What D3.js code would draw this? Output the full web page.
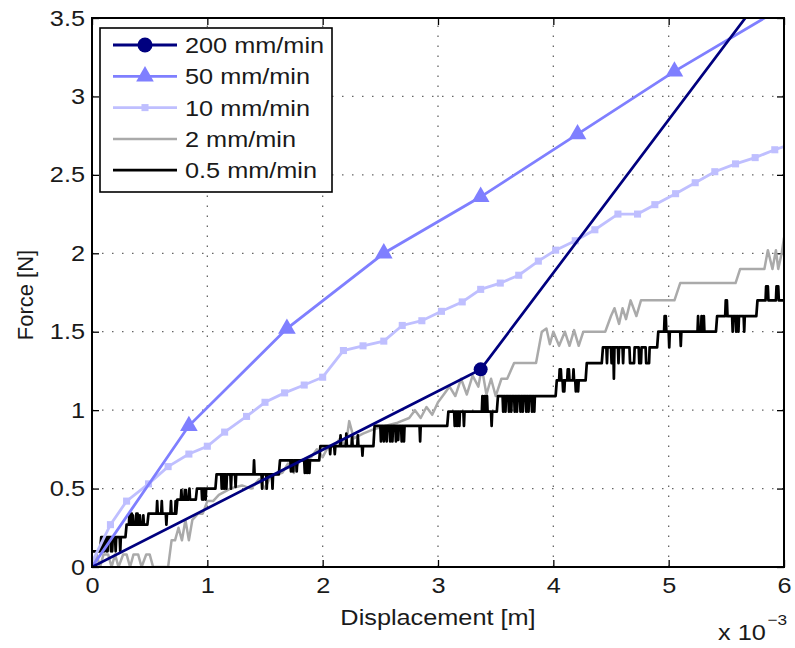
<!DOCTYPE html>
<html>
<head>
<meta charset="utf-8">
<script src="https://cdn.jsdelivr.net/npm/d3@7"></script>
<style>
body{margin:0;background:#fff;}
text{font-family:"Liberation Sans", Arial, sans-serif;fill:#1a1a1a;}
</style>
</head>
<body>
<script>
//wrap everything in a self-executing anonymous function
(function(){

//legend labels and colours
var seriesNames = ["200 mm/min", "50 mm/min", "10 mm/min", "2 mm/min", "0.5 mm/min"];
var seriesColors = ["#00007f", "#7f7fff", "#bfbfff", "#aaaaaa", "#000000"];

//axis ticks (x in units of 10^-3 m)
var xTicks = [0, 1, 2, 3, 4, 5, 6];
var yTicks = [0, 0.5, 1, 1.5, 2, 2.5, 3, 3.5];

//200 mm/min
var x200 = [0, 3.37, 6.74];
var f200 = [0, 1.26, 4.55];

//50 mm/min
var x50 = [0, 0.84, 1.69, 2.53, 3.37, 4.21, 5.05, 5.9];
var f50 = [0, 0.9, 1.52, 2.0, 2.36, 2.76, 3.16, 3.53];

//10 mm/min
var x10 = [0, 0.16, 0.30, 0.49, 0.66, 0.84, 1.0, 1.15, 1.34, 1.50, 1.67, 1.84, 2.0, 2.18, 2.35, 2.53, 2.69, 2.86, 3.03, 3.21, 3.37, 3.54, 3.70, 3.87, 4.02, 4.19, 4.36, 4.56, 4.73, 4.88, 5.06, 5.23, 5.40, 5.58, 5.75, 5.92, 6.0];
var f10 = [0.03, 0.27, 0.42, 0.53, 0.64, 0.72, 0.77, 0.86, 0.96, 1.05, 1.11, 1.16, 1.21, 1.38, 1.41, 1.44, 1.54, 1.57, 1.63, 1.69, 1.77, 1.81, 1.86, 1.95, 2.02, 2.08, 2.15, 2.25, 2.25, 2.31, 2.38, 2.45, 2.52, 2.57, 2.61, 2.66, 2.68];

//2 mm/min (x, force)
var run2 = [[0,0],[0.04,0.08],[0.07,0],[0.1,0.08],[0.14,0.08],[0.17,0],[0.2,0.08],[0.23,0],[0.27,0.08],[0.3,0.08],[0.33,0],[0.36,0.08],[0.4,0.08],[0.43,0],[0.47,0.08],[0.5,0.08],[0.53,0],[0.66,0],
    [0.69,0.17],[0.72,0.17],[0.75,0.25],[0.78,0.17],[0.81,0.3],[0.84,0.17],[0.87,0.3],[0.92,0.34],[0.96,0.34],[1.0,0.42],[1.05,0.42],[1.1,0.46],[1.2,0.5],[1.3,0.52],[1.38,0.5],[1.45,0.56],[1.5,0.5],[1.55,0.58],[1.65,0.6],[1.7,0.66],[1.75,0.6],[1.8,0.68],[1.9,0.7],[1.95,0.75],[2.0,0.7],[2.05,0.77],[2.1,0.77],[2.15,0.82],[2.2,0.77],[2.23,0.93],[2.27,0.82],[2.35,0.85],[2.45,0.88],[2.55,0.9],[2.65,0.92],[2.75,0.95],[2.8,1.0],[2.85,0.95],[2.9,1.02],[2.95,0.97],[3.0,1.05],[3.05,1.1],[3.1,1.15],[3.15,1.09],[3.2,1.2],[3.25,1.1],[3.3,1.22],[3.35,1.15],[3.38,1.27],[3.42,1.1],[3.46,1.2],[3.5,1.09],[3.55,1.2],[3.6,1.2],[3.66,1.3],[3.85,1.3],[3.9,1.5],[3.94,1.52],[3.97,1.42],[4.0,1.5],[4.05,1.41],[4.1,1.5],[4.14,1.41],[4.18,1.51],[4.22,1.41],[4.26,1.5],[4.45,1.5],[4.5,1.6],[4.53,1.65],[4.57,1.55],[4.6,1.65],[4.63,1.58],[4.67,1.7],[4.72,1.6],[4.76,1.7],[5.05,1.7],[5.1,1.81],[5.58,1.81],[5.62,1.9],[5.83,1.9],[5.86,2.02],[5.9,1.9],[5.93,2.02],[5.95,1.9],[5.98,2.0],[6.0,2.1]];

//0.5 mm/min (x, force)
var run05 = [[0,0.1],[0.07,0.1],[0.08,0.19],[0.09,0.19],[0.095,0.1],[0.1,0.19],[0.105,0.1],[0.11,0.19],[0.12,0.19],[0.125,0.1],[0.13,0.19],[0.135,0.1],[0.14,0.19],[0.16,0.19],[0.165,0.1],[0.17,0.19],[0.175,0.1],[0.18,0.19],[0.2,0.19],[0.205,0.1],[0.21,0.19],[0.24,0.19],[0.245,0.1],[0.25,0.19],[0.29,0.19],
    [0.3,0.27],[0.32,0.27],[0.325,0.34],[0.33,0.27],[0.34,0.27],[0.345,0.34],[0.35,0.27],[0.355,0.33],[0.36,0.27],[0.38,0.27],[0.385,0.34],[0.39,0.27],[0.395,0.34],[0.4,0.27],[0.41,0.27],[0.415,0.33],[0.42,0.27],[0.44,0.27],[0.445,0.33],[0.45,0.27],[0.48,0.27],
    [0.49,0.34],[0.56,0.34],[0.565,0.42],[0.57,0.34],[0.6,0.34],[0.605,0.42],[0.61,0.34],[0.64,0.34],[0.645,0.27],[0.65,0.34],[0.68,0.34],[0.685,0.42],[0.69,0.34],[0.72,0.34],[0.725,0.42],[0.73,0.34],
    [0.74,0.43],[0.77,0.43],[0.775,0.49],[0.78,0.43],[0.8,0.43],[0.805,0.49],[0.81,0.43],[0.815,0.49],[0.82,0.43],[0.84,0.43],[0.845,0.5],[0.85,0.43],[0.9,0.43],
    [0.91,0.5],[0.95,0.5],[0.955,0.43],[0.96,0.5],[0.965,0.43],[0.97,0.5],[0.98,0.5],[0.985,0.43],[0.99,0.5],[1.07,0.5],
    [1.08,0.59],[1.12,0.59],[1.125,0.5],[1.13,0.59],[1.14,0.59],[1.145,0.5],[1.15,0.59],[1.16,0.59],[1.165,0.5],[1.17,0.59],[1.2,0.59],[1.205,0.5],[1.21,0.59],[1.24,0.59],[1.245,0.51],[1.25,0.59],[1.4,0.59],[1.405,0.68],[1.41,0.59],[1.47,0.59],[1.475,0.5],[1.48,0.59],[1.51,0.59],[1.515,0.5],[1.52,0.59],[1.56,0.59],[1.565,0.5],[1.57,0.59],[1.62,0.59],
    [1.63,0.68],[1.72,0.68],[1.725,0.61],[1.73,0.68],[1.74,0.68],[1.745,0.61],[1.75,0.68],[1.77,0.68],[1.775,0.61],[1.78,0.68],[1.84,0.68],[1.845,0.6],[1.85,0.68],[1.86,0.68],[1.865,0.6],[1.87,0.68],[1.88,0.68],[1.885,0.6],[1.89,0.68],[1.97,0.68],
    [1.98,0.77],[2.06,0.77],[2.065,0.72],[2.07,0.77],[2.1,0.77],[2.105,0.72],[2.11,0.77],[2.15,0.77],[2.155,0.84],[2.16,0.77],[2.2,0.77],[2.205,0.85],[2.21,0.77],[2.25,0.77],[2.255,0.84],[2.26,0.77],[2.3,0.77],[2.305,0.84],[2.31,0.77],[2.34,0.77],[2.345,0.71],[2.35,0.77],[2.44,0.77],
    [2.45,0.9],[2.5,0.9],[2.505,0.8],[2.51,0.9],[2.525,0.9],[2.53,0.8],[2.535,0.9],[2.55,0.9],[2.555,0.8],[2.56,0.9],[2.58,0.9],[2.585,0.8],[2.59,0.9],[2.6,0.9],[2.605,0.8],[2.61,0.9],[2.63,0.9],[2.635,0.8],[2.64,0.9],[2.65,0.9],[2.655,0.81],[2.66,0.9],[2.68,0.9],[2.685,0.8],[2.69,0.9],[2.7,0.9],[2.705,0.8],[2.71,0.9],[2.84,0.9],[2.845,0.8],[2.85,0.9],[3.08,0.9],
    [3.09,0.99],[3.14,0.99],[3.145,0.9],[3.15,0.99],[3.16,0.99],[3.165,0.9],[3.17,0.99],[3.18,0.99],[3.185,0.9],[3.19,0.99],[3.22,0.99],[3.225,0.9],[3.23,0.99],[3.38,0.99],[3.385,1.09],[3.39,0.99],[3.4,0.99],[3.405,1.09],[3.41,0.99],[3.42,0.99],[3.425,1.09],[3.43,0.99],[3.46,0.99],[3.465,0.9],[3.47,0.99],[3.51,0.99],
    [3.52,1.09],[3.56,1.09],[3.565,0.99],[3.57,1.09],[3.58,1.09],[3.585,0.99],[3.59,1.09],[3.61,1.09],[3.615,0.99],[3.62,1.09],[3.63,1.09],[3.635,0.99],[3.64,1.09],[3.66,1.09],[3.665,0.99],[3.67,1.09],[3.68,1.09],[3.685,0.99],[3.69,1.09],[3.71,1.09],[3.715,0.99],[3.72,1.09],[3.73,1.09],[3.735,0.99],[3.74,1.09],[3.76,1.09],[3.765,0.99],[3.77,1.09],[3.78,1.09],[3.785,0.99],[3.79,1.09],[3.81,1.09],[3.815,0.99],[3.82,1.09],[3.83,1.09],[3.835,0.99],[3.84,1.09],[4.02,1.09],
    [4.03,1.19],[4.05,1.19],[4.055,1.26],[4.06,1.19],[4.065,1.26],[4.07,1.19],[4.08,1.19],[4.085,1.12],[4.09,1.19],[4.095,1.12],[4.1,1.19],[4.12,1.19],[4.125,1.26],[4.13,1.19],[4.135,1.26],[4.14,1.19],[4.17,1.19],[4.175,1.26],[4.18,1.19],[4.19,1.19],[4.195,1.12],[4.2,1.19],[4.21,1.19],[4.215,1.12],[4.22,1.19],[4.28,1.19],
    [4.29,1.3],[4.42,1.3],
    [4.43,1.4],[4.46,1.4],[4.465,1.3],[4.47,1.4],[4.5,1.4],[4.505,1.3],[4.51,1.4],[4.52,1.4],[4.525,1.2],[4.53,1.4],[4.56,1.4],[4.565,1.3],[4.57,1.4],[4.6,1.4],[4.605,1.3],[4.61,1.4],[4.66,1.4],[4.665,1.3],[4.7,1.3],[4.705,1.4],[4.74,1.4],[4.745,1.3],[4.76,1.3],[4.765,1.4],[4.8,1.4],[4.805,1.3],[4.83,1.3],[4.835,1.4],[4.9,1.4],
    [4.91,1.5],[4.96,1.5],[4.965,1.6],[4.97,1.5],[4.975,1.6],[4.98,1.5],[5.0,1.5],[5.005,1.4],[5.01,1.5],[5.1,1.5],[5.105,1.41],[5.11,1.5],[5.25,1.5],[5.255,1.6],[5.26,1.5],[5.28,1.5],[5.285,1.6],[5.29,1.5],[5.3,1.5],[5.305,1.6],[5.31,1.5],[5.41,1.5],
    [5.42,1.6],[5.49,1.6],[5.495,1.7],[5.5,1.6],[5.505,1.7],[5.51,1.6],[5.55,1.6],[5.555,1.5],[5.56,1.6],[5.58,1.6],[5.585,1.5],[5.59,1.6],[5.6,1.6],[5.605,1.5],[5.61,1.6],[5.65,1.6],[5.655,1.5],[5.66,1.6],[5.76,1.6],
    [5.77,1.7],[5.84,1.7],[5.845,1.79],[5.86,1.79],[5.865,1.7],[5.93,1.7],[5.935,1.79],[5.95,1.79],[5.955,1.7],[6.0,1.7]];

//frame dimensions
var width = 795,
    height = 648,
    left = 92,
    top = 18,
    plotW = 692,
    plotH = 549,
    stretch = "scale(1.15,1)"; //text in the picture is a bit wide

var svg = d3.select("body")
    .append("svg")
    .attr("width", width)
    .attr("height", height);

var x = d3.scaleLinear().domain([0, 6]).range([left, left + plotW]);
var y = d3.scaleLinear().domain([0, 3.5]).range([top + plotH, top]);

//dotted grid
svg.append("g").selectAll("line")
    .data(xTicks.slice(1, -1))
    .enter()
    .append("line")
    .attr("x1", function(d){ return x(d); })
    .attr("x2", function(d){ return x(d); })
    .attr("y1", y(0))
    .attr("y2", y(3.5))
    .attr("stroke", "#666")
    .attr("stroke-width", 1.3)
    .attr("stroke-dasharray", "1.5,8.5");

svg.append("g").selectAll("line")
    .data(yTicks.slice(1, -1))
    .enter()
    .append("line")
    .attr("x1", x(0))
    .attr("x2", x(6))
    .attr("y1", function(d){ return y(d); })
    .attr("y2", function(d){ return y(d); })
    .attr("stroke", "#666")
    .attr("stroke-width", 1.3)
    .attr("stroke-dasharray", "1.5,8.5");

//axes with inward ticks on all four sides
var fmt = d3.format("~g");
var bottomAxis = svg.append("g")
    .attr("transform", "translate(0," + y(0) + ")")
    .call(d3.axisBottom(x).tickValues(xTicks).tickFormat(fmt).tickSizeInner(-7).tickSizeOuter(0).tickPadding(10));
var leftAxis = svg.append("g")
    .attr("transform", "translate(" + x(0) + ",0)")
    .call(d3.axisLeft(y).tickValues(yTicks).tickFormat(fmt).tickSizeInner(-7).tickSizeOuter(0).tickPadding(6));
svg.append("g")
    .attr("transform", "translate(0," + y(3.5) + ")")
    .call(d3.axisTop(x).tickValues(xTicks).tickFormat("").tickSizeInner(-7).tickSizeOuter(0));
svg.append("g")
    .attr("transform", "translate(" + x(6) + ",0)")
    .call(d3.axisRight(y).tickValues(yTicks).tickFormat("").tickSizeInner(-7).tickSizeOuter(0));

svg.selectAll(".domain").remove();
svg.selectAll(".tick line").attr("stroke", "#000").attr("stroke-width", 1.3);
bottomAxis.selectAll("text")
    .attr("font-size", 22)
    .attr("fill", "#1a1a1a")
    .attr("transform", stretch);
leftAxis.selectAll("text")
    .attr("font-size", 22)
    .attr("fill", "#1a1a1a")
    .attr("x", -7 / 1.15)
    .attr("transform", stretch);

//clip everything to the plot box
svg.append("clipPath")
    .attr("id", "plotClip")
    .append("rect")
    .attr("x", left)
    .attr("y", top)
    .attr("width", plotW)
    .attr("height", plotH);

var plot = svg.append("g").attr("clip-path", "url(#plotClip)");

var line = d3.line()
    .x(function(d){ return x(d[0]); })
    .y(function(d){ return y(d[1]); });

function zipSeries(xs, fs){
    return xs.map(function(v, i){ return [v, fs[i]]; });
}

function inside(d){
    return d[0] > 0 && d[0] < 6 && d[1] < 3.5;
}

var data200 = zipSeries(x200, f200),
    data50 = zipSeries(x50, f50),
    data10 = zipSeries(x10, f10);

//draw from the bottom series up
plot.append("path").datum(run2)
    .attr("d", line).attr("fill", "none")
    .attr("stroke", seriesColors[3]).attr("stroke-width", 2.5).attr("stroke-linejoin", "round");

plot.append("path").datum(run05)
    .attr("d", line).attr("fill", "none")
    .attr("stroke", seriesColors[4]).attr("stroke-width", 2.7).attr("stroke-linejoin", "round");

plot.append("path").datum(data10)
    .attr("d", line).attr("fill", "none")
    .attr("stroke", seriesColors[2]).attr("stroke-width", 2.8);
plot.selectAll(".sq10")
    .data(data10.filter(inside))
    .enter()
    .append("path")
    .attr("class", "sq10")
    .attr("d", d3.symbol(d3.symbolSquare).size(50))
    .attr("transform", function(d){ return "translate(" + x(d[0]) + "," + y(d[1]) + ")"; })
    .attr("fill", seriesColors[2]);

plot.append("path").datum(data50)
    .attr("d", line).attr("fill", "none")
    .attr("stroke", seriesColors[1]).attr("stroke-width", 2.8);
plot.selectAll(".tri50")
    .data(data50.filter(inside))
    .enter()
    .append("path")
    .attr("class", "tri50")
    .attr("d", d3.symbol(d3.symbolTriangle).size(135))
    .attr("transform", function(d){ return "translate(" + x(d[0]) + "," + y(d[1]) + ")"; })
    .attr("fill", seriesColors[1]);

plot.append("path").datum(data200)
    .attr("d", line).attr("fill", "none")
    .attr("stroke", seriesColors[0]).attr("stroke-width", 2.7);
plot.selectAll(".dot200")
    .data(data200.filter(inside))
    .enter()
    .append("circle")
    .attr("class", "dot200")
    .attr("cx", function(d){ return x(d[0]); })
    .attr("cy", function(d){ return y(d[1]); })
    .attr("r", 7)
    .attr("fill", seriesColors[0]);

//plot frame
svg.append("rect")
    .attr("x", left)
    .attr("y", top)
    .attr("width", plotW)
    .attr("height", plotH)
    .attr("fill", "none")
    .attr("stroke", "#000")
    .attr("stroke-width", 2);

//legend
var legend = svg.append("g").attr("transform", "translate(100,28)");
legend.append("rect")
    .attr("width", 232)
    .attr("height", 164)
    .attr("fill", "#fff")
    .attr("stroke", "#000")
    .attr("stroke-width", 1.6);

var rows = legend.selectAll(".row")
    .data(seriesNames)
    .enter()
    .append("g")
    .attr("class", "row")
    .attr("transform", function(d, i){ return "translate(0," + (17 + i * 31.3) + ")"; });

rows.append("line")
    .attr("x1", 13)
    .attr("x2", 77)
    .attr("stroke", function(d, i){ return seriesColors[i]; })
    .attr("stroke-width", function(d, i){ return i == 3 ? 2.5 : 2.8; });

rows.filter(function(d, i){ return i == 0; })
    .append("circle").attr("cx", 45).attr("r", 7.5).attr("fill", seriesColors[0]);
rows.filter(function(d, i){ return i == 1; })
    .append("path").attr("d", d3.symbol(d3.symbolTriangle).size(135))
    .attr("transform", "translate(45,0)").attr("fill", seriesColors[1]);
rows.filter(function(d, i){ return i == 2; })
    .append("path").attr("d", d3.symbol(d3.symbolSquare).size(50))
    .attr("transform", "translate(45,0)").attr("fill", seriesColors[2]);

rows.append("g")
    .attr("transform", "translate(85,8) " + stretch)
    .append("text")
    .attr("font-size", 22)
    .text(function(d){ return d; });

//axis titles
svg.append("g")
    .attr("transform", "translate(438,625) " + stretch)
    .append("text")
    .attr("text-anchor", "middle")
    .attr("font-size", 22)
    .text("Displacement [m]");

svg.append("text")
    .attr("transform", "translate(33,295) rotate(-90)")
    .attr("text-anchor", "middle")
    .attr("font-size", 22)
    .text("Force [N]");

//exponent label
var expo = svg.append("g").attr("transform", "translate(718,640) " + stretch);
expo.append("text")
    .attr("font-size", 22)
    .text("x 10");
expo.append("text")
    .attr("x", 43)
    .attr("y", -15)
    .attr("font-size", 15)
    .text("\u22123");

})();
</script>
</body>
</html>
